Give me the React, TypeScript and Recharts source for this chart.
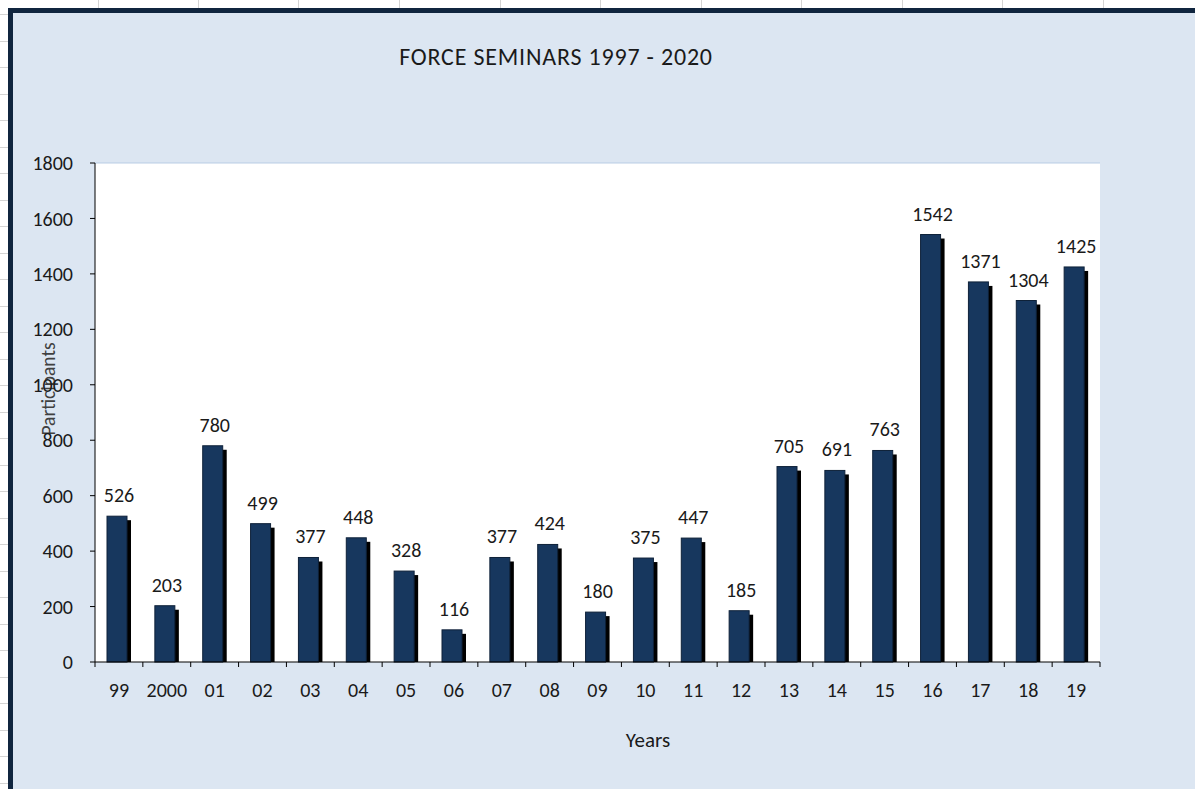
import React from "react";
import {
  BarChart,
  Bar,
  XAxis,
  YAxis,
  CartesianGrid,
  ReferenceLine,
  LabelList,
} from "recharts";

const years = ["99", "2000", "01", "02", "03", "04", "05", "06", "07", "08", "09", "10", "11", "12", "13", "14", "15", "16", "17", "18", "19"];
const participants = [526, 203, 780, 499, 377, 448, 328, 116, 377, 424, 180, 375, 447, 185, 705, 691, 763, 1542, 1371, 1304, 1425];
const yTicks = [0, 200, 400, 600, 800, 1000, 1200, 1400, 1600, 1800];

const data = years.map((year, i) => ({ year, value: participants[i] }));

const FONT = "Carlito, Lato, 'Liberation Sans', sans-serif";
const PLOT_LEFT = 95;
const PLOT_RIGHT = 1100;
const BAND = (PLOT_RIGHT - PLOT_LEFT) / years.length;

// bar with the excel-style black drop shadow
const ShadowBar = (props: any) => {
  const { x, y, width, height } = props;
  const w = width - 4;
  return (
    <g>
      <rect x={x + 4} y={y + 4} width={w} height={Math.max(height - 4, 0)} fill="#000" />
      <rect x={x} y={y} width={w} height={height} fill="#17375e" stroke="#0e2138" strokeWidth={1} />
    </g>
  );
};

// category tick: label centered, tick marks between categories
const XTick = (props: any) => {
  const { x, payload, index } = props;
  const ay = 662;
  return (
    <g>
      <line x1={x - BAND / 2} x2={x - BAND / 2} y1={ay} y2={ay + 5} stroke="#000" />
      {index === years.length - 1 && (
        <line x1={x + BAND / 2} x2={x + BAND / 2} y1={ay} y2={ay + 5} stroke="#000" />
      )}
      <text x={x} y={ay + 35} textAnchor="middle" fontSize={20} fill="#1a1a1a" fontFamily={FONT}>
        {payload.value}
      </text>
    </g>
  );
};

const App: React.FC = () => {
  const colLines = [98, 198, 298, 399, 500, 600, 701, 801, 902, 1002, 1103];
  const rowLines = Array.from({ length: 30 }, (_, k) => 14 + 26.5 * k);

  return (
    <div
      style={{
        position: "absolute",
        left: 0,
        top: 0,
        width: 1195,
        height: 789,
        background: "#fff",
        overflow: "hidden",
        fontFamily: FONT,
      }}
    >
      {/* spreadsheet grid peeking out */}
      {colLines.map((cx) => (
        <div key={cx} style={{ position: "absolute", left: cx, top: 0, width: 1, height: 10, background: "#d4d4d4" }} />
      ))}
      {rowLines.map((ry) => (
        <div key={ry} style={{ position: "absolute", left: 0, top: ry, width: 10, height: 1, background: "#d4d4d4" }} />
      ))}

      {/* chart area */}
      <div
        style={{
          position: "absolute",
          left: 8,
          top: 8,
          width: 1300,
          height: 900,
          background: "#dce6f2",
          borderTop: "5px solid #10253f",
          borderLeft: "5px solid #10253f",
        }}
      />

      <div style={{ position: "absolute", left: 0, top: 0 }}>
        <BarChart
          width={1195}
          height={789}
          data={data}
          margin={{ top: 163, right: 95, bottom: 97, left: 35 }}
          barCategoryGap={0}
        >
          <text x={556} y={65} textAnchor="middle" fontSize={24} letterSpacing={0.8} fill="#1a1a1a" fontFamily={FONT}>
            FORCE SEMINARS 1997 - 2020
          </text>
          <text x={648} y={747} textAnchor="middle" fontSize={21} fill="#1a1a1a" fontFamily={FONT}>
            Years
          </text>
          <CartesianGrid fill="#fff" horizontal={false} vertical={false} />
          <ReferenceLine y={1800} stroke="#b9cde5" strokeWidth={1} />
          <XAxis
            dataKey="year"
            height={30}
            axisLine={{ stroke: "#000" }}
            tickLine={false}
            tickSize={0}
            tickMargin={0}
            interval={0}
            tick={<XTick />}
          />
          <YAxis
            width={60}
            domain={[0, 1800]}
            ticks={yTicks}
            interval={0}
            axisLine={{ stroke: "#000" }}
            tickLine={{ stroke: "#000" }}
            tickSize={5}
            tickMargin={17}
            tick={{ fontSize: 20, fill: "#1a1a1a", fontFamily: FONT }}
            label={{
              content: () => (
                <text
                  x={48}
                  y={389}
                  transform="rotate(-90 48 389)"
                  textAnchor="middle"
                  dominantBaseline="central"
                  fontSize={19.5}
                  fill="#404040"
                  fontFamily={FONT}
                >
                  Participants
                </text>
              ),
            }}
          />
          <YAxis
            yAxisId="right"
            orientation="right"
            width={0}
            domain={[0, 1800]}
            tick={false}
            tickLine={false}
            axisLine={{ stroke: "#b9cde5" }}
          />
          <Bar dataKey="value" barSize={24} shape={<ShadowBar />} isAnimationActive={false}>
            <LabelList
              dataKey="value"
              position="top"
              offset={14}
              fontSize={20}
              fill="#1a1a1a"
              fontFamily={FONT}
            />
          </Bar>
        </BarChart>
      </div>
    </div>
  );
};

export default App;
